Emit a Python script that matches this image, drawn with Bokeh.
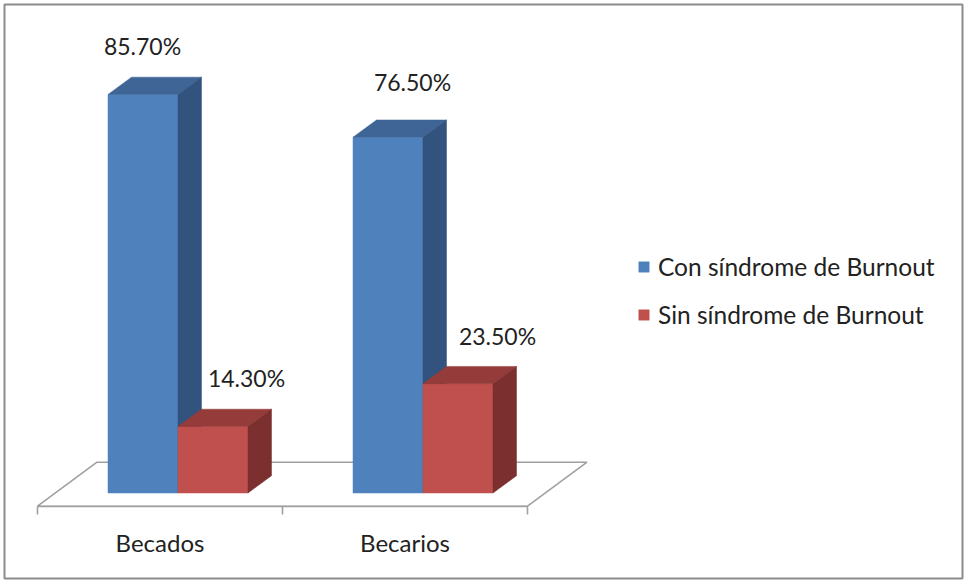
from bokeh.plotting import figure
from bokeh.models import (Range1d, LinearAxis, FixedTicker, ColumnDataSource,
                          Legend, LegendItem)
from bokeh.core.properties import value
from bokeh.embed import file_html
from bokeh.resources import INLINE

# ---------------- data ----------------
categories = ["Becados", "Becarios"]
series_names = ["Con síndrome de Burnout", "Sin síndrome de Burnout"]
con_values = [85.7, 76.5]
sin_values = [14.3, 23.5]
tick_labels = {0.5: "Becados", 1.5: "Becarios"}

# ---------------- style / geometry ----------------
W, H = 964, 581
CAT0_PX = 37.0          # pixel of category boundary 0
PX_PER_CAT = 245.0      # pixels per category
ZERO_PX = 492.5         # pixel row of 0 %
PX_PER_PCT = 4.65       # pixels per percent

BAR_W = 70.0 / PX_PER_CAT
GROUP_START = 70.5 / PX_PER_CAT
DEPTH_DX = 23.5 / PX_PER_CAT
DEPTH_DY = 17.3 / PX_PER_PCT
FLOOR_FRONT_Y = -13.2 / PX_PER_PCT
FLOOR_BACK_Y = 30.8 / PX_PER_PCT
FLOOR_DX = 59.5 / PX_PER_CAT

FACE_COLORS = [
    {"front": "#4F81BD", "top": "#3E6596", "side": "#33537F"},
    {"front": "#C0504D", "top": "#953B39", "side": "#7B2F2E"},
]
# label pixel offsets (dx, dy up) relative to the back-top centre of each bar
LABEL_DX = [[-24, 1], [10, 16]]
LABEL_DY = [31, 38], [31, 30]
FLOOR_COLOR = "#A0A0A0"
TEXT_COLOR = "#222222"
FONT = "Lato"


def px_x(px):
    return (px - CAT0_PX) / PX_PER_CAT


def px_y(py):
    return (ZERO_PX - py) / PX_PER_PCT


p = figure(width=W, height=H, output_backend="svg", toolbar_location=None,
           x_axis_type=None, y_axis_type=None,
           x_range=Range1d(px_x(0), px_x(W)), y_range=Range1d(px_y(H), px_y(0)),
           min_border=0, min_border_left=0, min_border_right=0,
           min_border_top=0, min_border_bottom=0)
p.grid.visible = False
p.outline_line_color = None
p.background_fill_color = "white"
p.border_fill_color = "white"

# outer chart border
p.quad(left=[px_x(4)], right=[px_x(962)], top=[px_y(4)], bottom=[px_y(578)],
       fill_color=None, line_color="#8C8C8C", line_width=2)

# floor (3-D base plane)
n = len(categories)
p.patch(x=[0, n, n + FLOOR_DX, FLOOR_DX],
        y=[FLOOR_FRONT_Y, FLOOR_FRONT_Y, FLOOR_BACK_Y, FLOOR_BACK_Y],
        fill_color=None, line_color=FLOOR_COLOR, line_width=1.6)

# bars
all_values = [con_values, sin_values]
front_renderers = []
lab_x, lab_y, lab_t, lab_dx, lab_dy = [], [], [], [], []
for si, vals in enumerate(all_values):
    faces = {"front": ([], []), "top": ([], []), "side": ([], [])}
    for ci in range(n):
        v = vals[ci]
        x0 = ci + GROUP_START + si * BAR_W
        x1 = x0 + BAR_W
        faces["front"][0].append([x0, x1, x1, x0])
        faces["front"][1].append([0, 0, v, v])
        faces["top"][0].append([x0, x1, x1 + DEPTH_DX, x0 + DEPTH_DX])
        faces["top"][1].append([v, v, v + DEPTH_DY, v + DEPTH_DY])
        faces["side"][0].append([x1, x1 + DEPTH_DX, x1 + DEPTH_DX, x1])
        faces["side"][1].append([0, DEPTH_DY, v + DEPTH_DY, v])
        lab_x.append(x0 + BAR_W / 2 + DEPTH_DX)
        lab_y.append(v + DEPTH_DY)
        lab_t.append(f"{v:.2f}%")
        lab_dx.append(LABEL_DX[si][ci])
        lab_dy.append(-LABEL_DY[si][ci])
    for face in ("front", "top", "side"):
        c = FACE_COLORS[si][face]
        r = p.patches(xs=faces[face][0], ys=faces[face][1],
                      fill_color=c, line_color=c, line_width=0.5)
        if face == "front":
            front_renderers.append(r)

# data labels
src = ColumnDataSource(dict(x=lab_x, y=lab_y, text=lab_t, dx=lab_dx, dy=lab_dy))
p.text(x="x", y="y", text="text", x_offset="dx", y_offset="dy", source=src,
       text_align="center", text_baseline="middle",
       text_font=value(FONT), text_font_size=value("23px"), text_color=TEXT_COLOR)

# category axis on the floor front edge
xaxis = LinearAxis(fixed_location=FLOOR_FRONT_Y, bounds=(0, n),
                   ticker=FixedTicker(ticks=[0.5, 1.5], minor_ticks=[0, 1, 2]),
                   major_label_overrides=tick_labels)
xaxis.axis_line_color = FLOOR_COLOR
xaxis.axis_line_width = 1.6
xaxis.major_tick_line_color = None
xaxis.major_tick_out = 0
xaxis.major_tick_in = 0
xaxis.minor_tick_line_color = FLOOR_COLOR
xaxis.minor_tick_line_width = 1.6
xaxis.minor_tick_out = 8
xaxis.minor_tick_in = 0
xaxis.major_label_standoff = 14
xaxis.major_label_text_font = FONT
xaxis.major_label_text_font_size = "24px"
xaxis.major_label_text_color = TEXT_COLOR
p.add_layout(xaxis, "below")

# legend
legend = Legend(items=[LegendItem(label=series_names[i], renderers=[front_renderers[i]])
                       for i in range(2)],
                location=(637, 252), orientation="vertical",
                glyph_width=13, glyph_height=13, label_standoff=8,
                spacing=19, padding=0, margin=0,
                border_line_color=None, background_fill_alpha=0,
                label_text_font=FONT, label_text_font_size="24.5px",
                label_text_color=TEXT_COLOR)
p.add_layout(legend)

open("out.html", "w").write(file_html(p, INLINE))
